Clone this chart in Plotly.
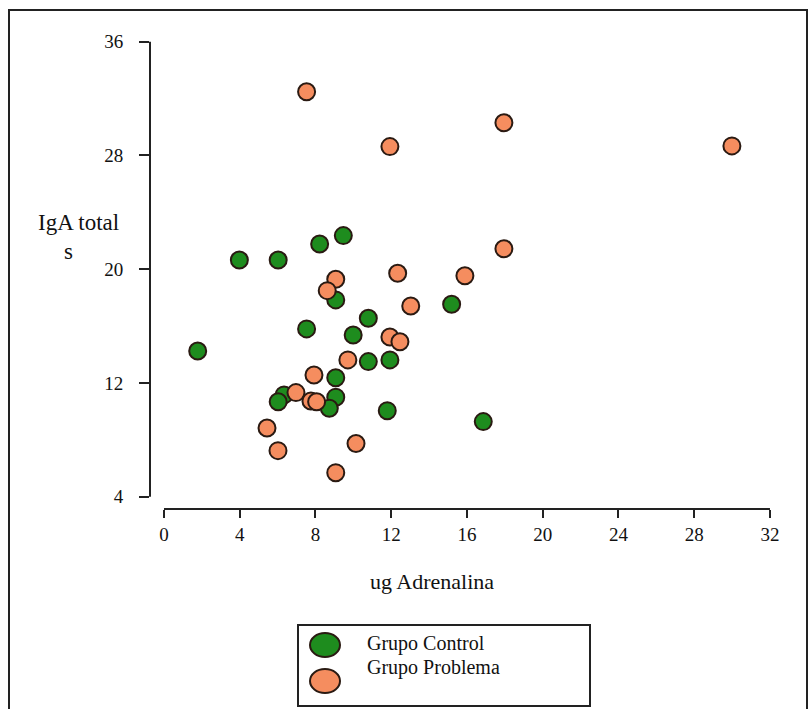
import plotly.graph_objects as go

# Grupo Control: adrenaline (ug) vs total IgA
control_x = [3.98, 6.03, 8.22, 9.47, 9.07, 15.19, 10.79, 1.78, 7.53, 9.99,
             9.07, 10.79, 11.93, 6.34, 6.03, 9.07, 8.73, 11.79, 16.86]
control_y = [20.65, 20.65, 21.77, 22.36, 17.84, 17.53, 16.55, 14.25, 15.80, 15.37,
             12.37, 13.50, 13.62, 11.16, 10.68, 11.00, 10.22, 10.05, 9.28]

# Grupo Problema
problema_x = [7.53, 17.95, 11.93, 29.99, 17.95, 12.34, 15.89, 9.07, 8.62, 13.03,
              11.93, 12.46, 9.71, 7.92, 6.97, 7.76, 8.06, 5.44, 10.14, 6.02, 9.07]
problema_y = [32.48, 30.30, 28.62, 28.67, 21.44, 19.71, 19.54, 19.29, 18.49, 17.41,
              15.23, 14.90, 13.62, 12.56, 11.32, 10.73, 10.68, 8.83, 7.74, 7.24, 5.69]

x_ticks = [0, 4, 8, 12, 16, 20, 24, 28, 32]
y_ticks = [4, 12, 20, 28, 36]

x_title = "ug Adrenalina"
y_title_lines = ["IgA total", "s"]
legend_labels = ["Grupo Control", "Grupo Problema"]

GREEN = "#1e8c1e"
ORANGE = "#f58d5f"
EDGE = "#2a1a12"
INK = "#222222"
FONT = "Liberation Serif"

W, H = 809, 709
L, R, T, B = 150, 29, 30, 200
PW, PH = W - L - R, H - T - B


def px(x):
    """pixel column -> paper x"""
    return (x - L) / PW


def py(y):
    """pixel row -> paper y"""
    return (H - B - y) / PH


fig = go.Figure()
fig.add_trace(go.Scatter(
    x=control_x, y=control_y, mode="markers", name=legend_labels[0],
    marker=dict(size=17, color=GREEN, line=dict(color=EDGE, width=2)),
))
fig.add_trace(go.Scatter(
    x=problema_x, y=problema_y, mode="markers", name=legend_labels[1],
    marker=dict(size=17, color=ORANGE, line=dict(color=EDGE, width=2)),
))

shapes = [
    # outer frame
    dict(type="rect", xref="paper", yref="paper",
         x0=px(9), x1=px(807), y0=py(740), y1=py(10),
         line=dict(color=INK, width=2), layer="below"),
    # detached axis lines
    dict(type="line", xref="paper", yref="y", x0=0, x1=0,
         y0=y_ticks[0], y1=y_ticks[-1], line=dict(color=INK, width=2)),
    dict(type="line", xref="x", yref="paper", x0=x_ticks[0], x1=x_ticks[-1],
         y0=0, y1=0, line=dict(color=INK, width=2)),
    # legend box
    dict(type="rect", xref="paper", yref="paper",
         x0=px(298), x1=px(590), y0=py(706), y1=py(625),
         line=dict(color=INK, width=2), fillcolor="white"),
    # legend swatches
    dict(type="circle", xref="paper", yref="paper",
         x0=px(310), x1=px(340), y0=py(657), y1=py(633),
         fillcolor=GREEN, line=dict(color=EDGE, width=2)),
    dict(type="circle", xref="paper", yref="paper",
         x0=px(310), x1=px(340), y0=py(693), y1=py(669),
         fillcolor=ORANGE, line=dict(color=EDGE, width=2)),
]

annotations = [
    dict(text=x_title, xref="paper", yref="paper", x=px(432), y=py(581),
         showarrow=False, xanchor="center", yanchor="middle",
         font=dict(family=FONT, size=22, color="#111")),
    dict(text=y_title_lines[0], xref="paper", yref="paper", x=px(78), y=py(222),
         showarrow=False, xanchor="center", yanchor="middle",
         font=dict(family=FONT, size=23, color="#111")),
    dict(text=y_title_lines[1], xref="paper", yref="paper", x=px(68), y=py(251),
         showarrow=False, xanchor="center", yanchor="middle",
         font=dict(family=FONT, size=23, color="#111")),
    dict(text=legend_labels[0], xref="paper", yref="paper", x=px(365), y=py(643),
         showarrow=False, xanchor="left", yanchor="middle",
         font=dict(family=FONT, size=20, color="#111")),
    dict(text=legend_labels[1], xref="paper", yref="paper", x=px(365), y=py(667),
         showarrow=False, xanchor="left", yanchor="middle",
         font=dict(family=FONT, size=20, color="#111")),
]

fig.update_layout(
    width=W, height=H,
    margin=dict(l=L, r=R, t=T, b=B),
    paper_bgcolor="white", plot_bgcolor="white",
    showlegend=False,
    shapes=shapes,
    annotations=annotations,
    font=dict(family=FONT, size=19, color="#111"),
)
fig.update_xaxes(
    range=[-0.739, 32.53], tickvals=x_ticks, ticktext=[str(v) for v in x_ticks],
    showgrid=False, zeroline=False, showline=False,
    ticks="outside", ticklen=8, tickwidth=2, tickcolor=INK,
)
fig.update_yaxes(
    range=[3.135, 36.82], tickvals=y_ticks, ticktext=[str(v) for v in y_ticks],
    showgrid=False, zeroline=False, showline=False,
    ticks="outside", ticklen=10, tickwidth=2, tickcolor=INK,
    ticklabelstandoff=12,
)

fig.write_html("out.html")
